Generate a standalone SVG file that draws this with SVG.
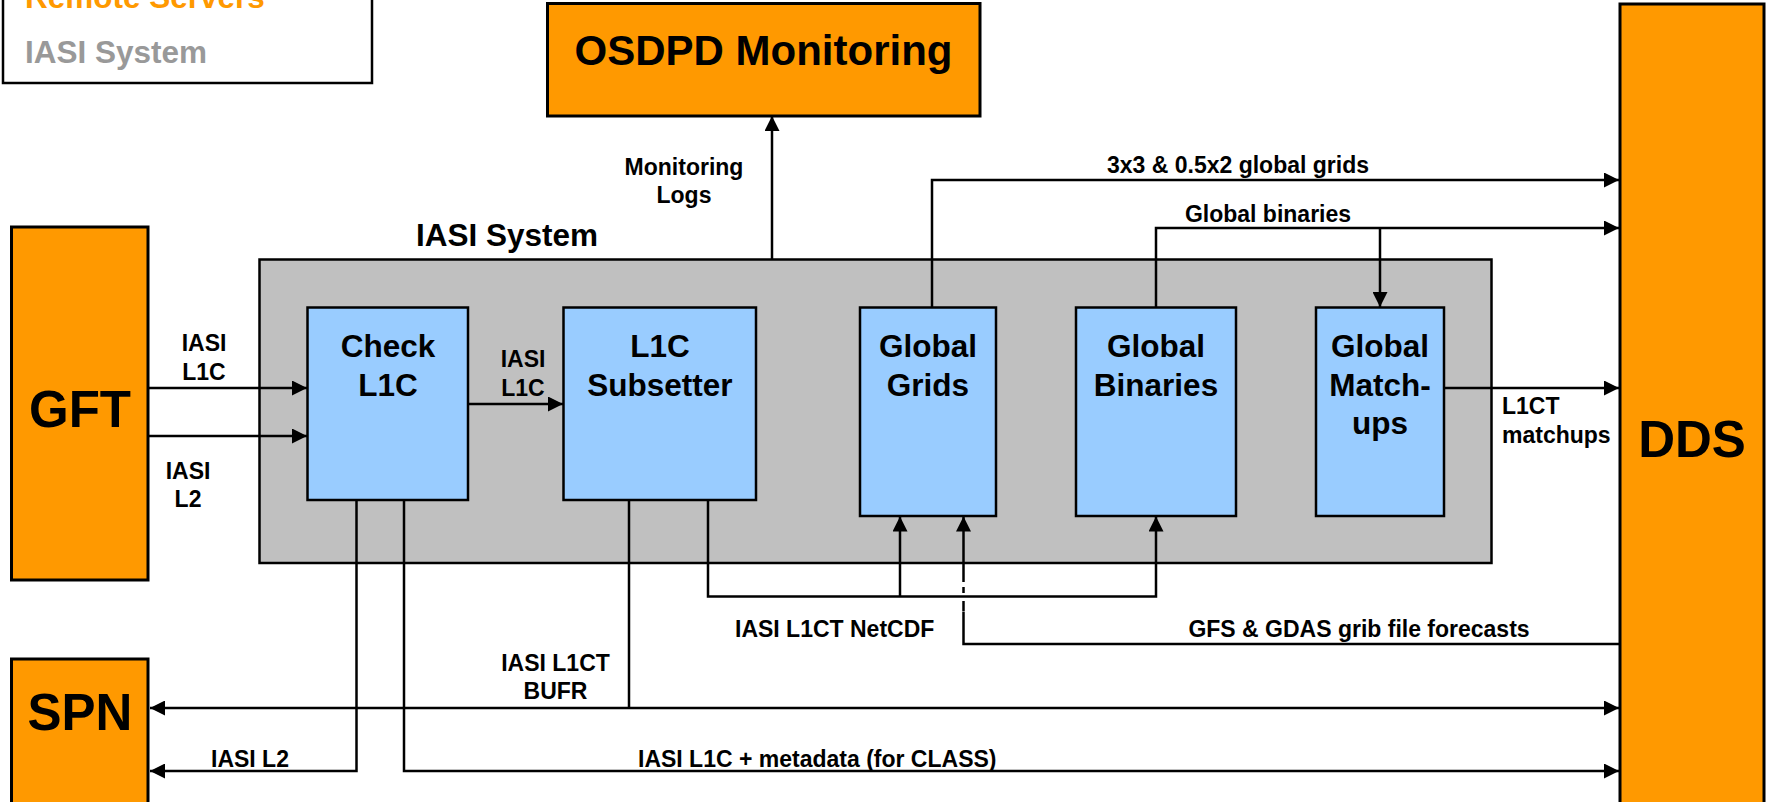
<svg xmlns="http://www.w3.org/2000/svg" width="1767" height="802" viewBox="0 0 1767 802">
<defs>
<marker id="arr" viewBox="0 0 15 15" refX="15" refY="7.5" markerWidth="15" markerHeight="15" markerUnits="userSpaceOnUse" orient="auto-start-reverse"><path d="M0,0 L15,7.5 L0,15 z" fill="#000"/></marker>
</defs>
<style>
text{font-family:"Liberation Sans",Arial,Helvetica,sans-serif;font-weight:bold;fill:#000}
.orange{fill:#FF9900;stroke:#000;stroke-width:3}
.blue{fill:#99CCFF;stroke:#000;stroke-width:2.5}
.gray{fill:#C0C0C0;stroke:#000;stroke-width:2.5}
.ln{fill:none;stroke:#000;stroke-width:2.5}
.a{marker-end:url(#arr)}
.big{font-size:51px}
.node{font-size:31.5px}
.lbl{font-size:23px}
.c{text-anchor:middle}
</style>
<rect width="1767" height="802" fill="#fff"/>
<g id="legend">
<rect x="3" y="-20" width="369" height="103" fill="#fff" stroke="#000" stroke-width="2.5"/>
<text x="25" y="7.5" style="font-size:31.5px;fill:#FF9900">Remote Servers</text>
<text x="25" y="63" style="font-size:31.5px;fill:#999999">IASI System</text>
</g>
<g id="iasi-system">
<rect class="gray" x="259.5" y="259.5" width="1232" height="303.5"/>
<text x="416" y="246" class="node">IASI System</text>
</g>
<g id="osdpd">
<rect class="orange" x="547.5" y="3.5" width="432.5" height="112.5"/>
<text x="763.5" y="65" class="c" style="font-size:42px">OSDPD Monitoring</text>
</g>
<g id="gft">
<rect class="orange" x="11.5" y="227" width="136.5" height="353"/>
<text x="80" y="427" class="c big">GFT</text>
</g>
<g id="spn">
<rect class="orange" x="11.5" y="659" width="136.5" height="160"/>
<text x="80" y="730" class="c big">SPN</text>
</g>
<g id="dds">
<rect class="orange" x="1620" y="4" width="144" height="815"/>
<text x="1692" y="457" class="c big">DDS</text>
</g>
<g id="check-l1c">
<rect class="blue" x="307.5" y="307.5" width="160.5" height="192.5"/>
<text x="388" y="357" class="c node">Check</text>
<text x="388" y="396" class="c node">L1C</text>
</g>
<g id="l1c-subsetter">
<rect class="blue" x="563.5" y="307.5" width="192.5" height="192.5"/>
<text x="660" y="357" class="c node">L1C</text>
<text x="660" y="396" class="c node">Subsetter</text>
</g>
<g id="global-grids">
<rect class="blue" x="860" y="307.5" width="136" height="208.5"/>
<text x="928" y="357" class="c node">Global</text>
<text x="928" y="396" class="c node">Grids</text>
</g>
<g id="global-binaries">
<rect class="blue" x="1076" y="307.5" width="160" height="208.5"/>
<text x="1156" y="357" class="c node">Global</text>
<text x="1156" y="396" class="c node">Binaries</text>
</g>
<g id="global-matchups">
<rect class="blue" x="1316" y="307.5" width="128" height="208.5"/>
<text x="1380" y="357" class="c node">Global</text>
<text x="1380" y="396" class="c node">Match-</text>
<text x="1380" y="434" class="c node">ups</text>
</g>
<g id="connectors">
<path class="ln a" d="M772,260 V116"/>
<path class="ln a" d="M148,388 H307"/>
<path class="ln a" d="M148,436 H307"/>
<path class="ln a" d="M468,404 H563"/>
<path class="ln a" d="M932,308 V180 H1619"/>
<path class="ln a" d="M1156,308 V228 H1619"/>
<path class="ln a" d="M1380,228 V307"/>
<path class="ln a" d="M1444,388 H1619"/>
<path class="ln a" d="M356.5,500 V771 H150"/>
<path class="ln a" d="M404,500 V771 H1619"/>
<path class="ln a" d="M150,708 H1619" style="marker-start:url(#arr)"/>
<path class="ln" d="M629,500 V708"/>
<path class="ln a" d="M708,500 V596.5 H1156 V516.5"/>
<path class="ln a" d="M900,596.5 V516.5"/>
<path class="ln" d="M1620,644 H963.5 V612"/>
<path class="ln" d="M963.5,611.5 V601"/>
<path class="ln" d="M963.5,593 V587"/>
<path class="ln a" d="M963.5,582 V516.5"/>
</g>
<g id="labels">
<text x="684" y="175" class="c lbl">Monitoring</text>
<text x="684" y="203" class="c lbl">Logs</text>
<text x="204" y="351" class="c lbl">IASI</text>
<text x="204" y="380" class="c lbl">L1C</text>
<text x="188" y="479" class="c lbl">IASI</text>
<text x="188" y="507" class="c lbl">L2</text>
<text x="523" y="367" class="c lbl">IASI</text>
<text x="523" y="396" class="c lbl">L1C</text>
<text x="1238" y="173" class="c lbl">3x3 &amp; 0.5x2 global grids</text>
<text x="1268" y="222" class="c lbl">Global binaries</text>
<text x="1502" y="414" class="lbl">L1CT</text>
<text x="1502" y="443" class="lbl">matchups</text>
<text x="735" y="637" class="lbl">IASI L1CT NetCDF</text>
<text x="1359" y="637" class="c lbl">GFS &amp; GDAS grib file forecasts</text>
<text x="555.5" y="671" class="c lbl">IASI L1CT</text>
<text x="555.5" y="699" class="c lbl">BUFR</text>
<text x="211" y="767" class="lbl">IASI L2</text>
<text x="638" y="767" class="lbl">IASI L1C + metadata (for CLASS)</text>
</g>
</svg>
